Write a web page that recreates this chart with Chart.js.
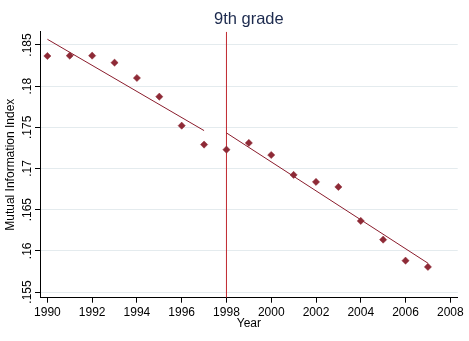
<!DOCTYPE html>
<html>
<head>
<meta charset="utf-8">
<script src="https://cdn.jsdelivr.net/npm/chart.js@4"></script>
<style>
  body { margin: 0; background: #fff; }
  #wrap { width: 469px; height: 341px; }
</style>
</head>
<body>
<div id="wrap"><canvas id="chart_MI"></canvas></div>
<script>
// data
const years = [1990, 1991, 1992, 1993, 1994, 1995, 1996, 1997, 1998,
               1999, 2000, 2001, 2002, 2003, 2004, 2005, 2006, 2007];
const miValues = [.18366, .18370, .18370, .18285, .18099, .17872, .1752, .1729, .17229,
                  .17310, .17164, .16922, .16837, .16776, .16363, .16136, .15881, .15805];
// fitted lines, before and after the break
const fitBeforeYears = [1990, 1997];
const fitBeforeValues = [.18569, .17460];
const fitAfterYears = [1998, 2007];
const fitAfterValues = [.17432, .1585];
const breakYear = 1998;

const xTicks = [1990, 1992, 1994, 1996, 1998, 2000, 2002, 2004, 2006, 2008];
const yTicks = [.155, .16, .165, .17, .175, .18, .185];

const xMin = 1989.67, xMax = 2008.33;
const yMin = .15431, yMax = .18661;

function pairs(xs, ys) {
  return xs.map((x, i) => ({ x: x, y: ys[i] }));
}

function yLabel(v) {
  return String(+v.toFixed(3)).replace(/^0/, '');
}

Chart.defaults.font.family = 'Arial, "Liberation Sans", sans-serif';
Chart.defaults.color = '#000';

// y tick labels are rotated like the original, title centred over the plot
const extraText = {
  id: 'extraText',
  afterDraw(chart) {
    const y = chart.scales.y;
    const area = chart.chartArea;
    const ctx = chart.ctx;
    ctx.save();
    ctx.fillStyle = '#000';
    ctx.font = '12px Arial, "Liberation Sans", sans-serif';
    ctx.textAlign = 'center';
    ctx.textBaseline = 'alphabetic';
    yTicks.forEach(v => {
      ctx.save();
      ctx.translate(30.7, y.getPixelForValue(v));
      ctx.rotate(-Math.PI / 2);
      ctx.fillText(yLabel(v), 0, 0);
      ctx.restore();
    });
    ctx.fillStyle = '#1c2a4e';
    ctx.font = '16.5px Arial, "Liberation Sans", sans-serif';
    ctx.fillText('9th grade', (area.left + area.right) / 2, 24.3);
    ctx.restore();
  }
};

const ctx = document.getElementById('chart_MI');

new Chart(ctx, {
  type: 'scatter',
  data: {
    datasets: [
      {
        label: 'MI',
        data: pairs(years, miValues),
        pointStyle: 'rectRot',
        pointRadius: 3.6,
        pointBorderWidth: 0.5,
        backgroundColor: '#8e2a36',
        borderColor: '#8e2a36',
        order: 1
      },
      {
        type: 'line',
        label: 'fit1',
        data: pairs(fitBeforeYears, fitBeforeValues),
        borderColor: '#8a1c2c',
        borderWidth: 1,
        pointRadius: 0,
        order: 2
      },
      {
        type: 'line',
        label: 'fit2',
        data: pairs(fitAfterYears, fitAfterValues),
        borderColor: '#8a1c2c',
        borderWidth: 1,
        pointRadius: 0,
        order: 2
      },
      {
        type: 'line',
        label: 'break',
        data: pairs([breakYear, breakYear], [yMin, yMax]),
        borderColor: '#c0282e',
        borderWidth: 1,
        pointRadius: 0,
        order: 3
      }
    ]
  },
  options: {
    responsive: true,
    maintainAspectRatio: false,
    animation: false,
    layout: {
      padding: { left: 0, right: 11.3, top: 31.7, bottom: 0 }
    },
    scales: {
      x: {
        type: 'linear',
        min: xMin,
        max: xMax,
        afterBuildTicks(scale) {
          scale.ticks = xTicks.map(v => ({ value: v }));
        },
        afterFit(scale) {
          scale.height = 43.3;
        },
        border: { color: '#000', width: 1 },
        grid: {
          color: 'rgba(0,0,0,0)',
          tickColor: '#000',
          tickLength: 5,
          drawTicks: true
        },
        ticks: {
          padding: 3,
          font: { size: 12 },
          color: '#000',
          maxRotation: 0,
          autoSkip: false,
          callback: v => String(v)
        },
        title: {
          display: true,
          text: 'Year',
          color: '#000',
          font: { size: 12 },
          padding: { top: 0, bottom: 9.8 }
        }
      },
      y: {
        type: 'linear',
        min: yMin,
        max: yMax,
        afterBuildTicks(scale) {
          scale.ticks = yTicks.map(v => ({ value: v }));
        },
        afterFit(scale) {
          scale.width = 40;
        },
        border: { color: '#000', width: 1 },
        grid: {
          color: '#e4ebee',
          tickColor: '#000',
          tickLength: 5,
          drawTicks: true
        },
        ticks: {
          display: false
        },
        title: {
          display: true,
          text: 'Mutual Information Index',
          color: '#000',
          font: { size: 12 },
          padding: { top: 3.8, bottom: 0 }
        }
      }
    },
    plugins: {
      legend: { display: false },
      tooltip: { enabled: false },
      title: { display: false }
    }
  },
  plugins: [extraText]
});
</script>
</body>
</html>
